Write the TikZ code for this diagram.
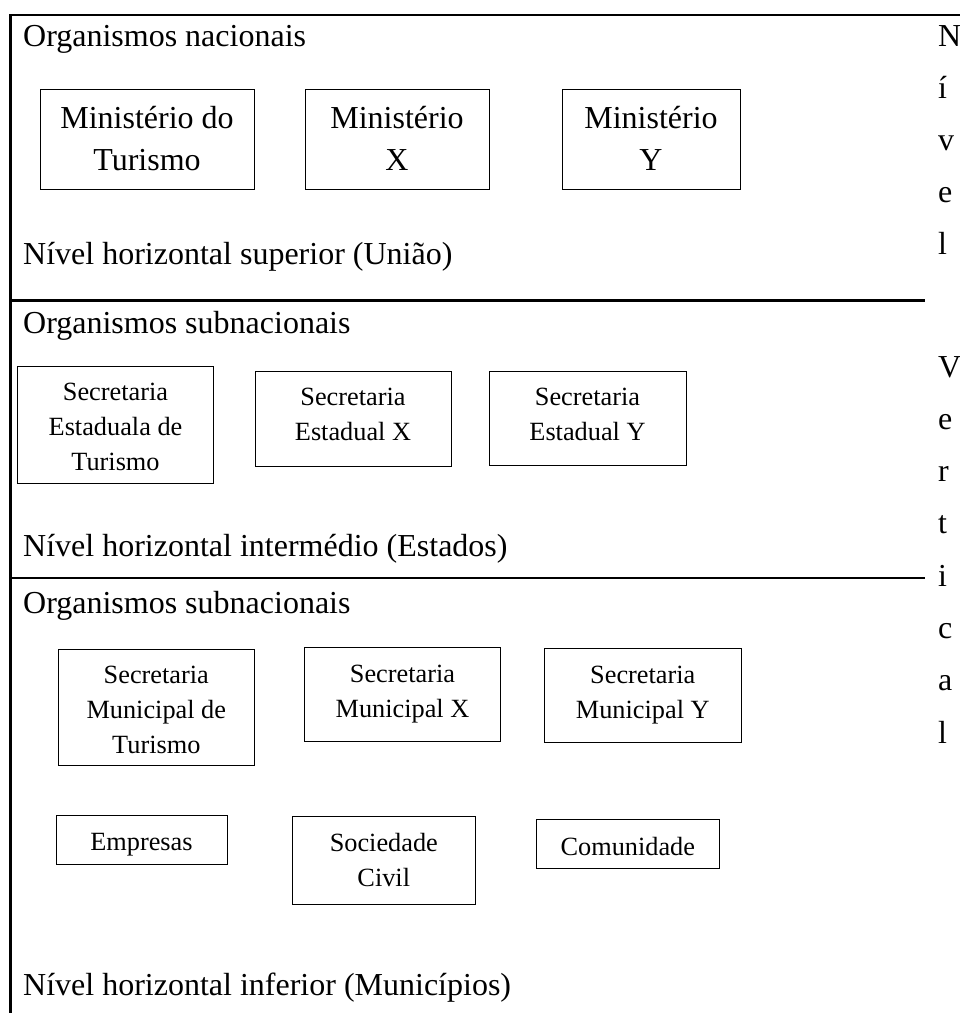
\documentclass[tikz,border=0pt]{standalone}
\usepackage{fontspec}
\setmainfont{Liberation Serif}
\usetikzlibrary{fit}
\begin{document}
\begin{tikzpicture}[x=1pt,y=-1pt,
  frame/.style={line width=2.2pt},
  box/.style={draw, line width=1pt, inner sep=0pt},
  big/.style={font=\fontsize{32}{42}\selectfont, align=center, inner sep=0pt, anchor=base},
  small/.style={font=\fontsize{26.3}{34.6}\selectfont, align=center, inner sep=0pt, anchor=base},
  head/.style={font=\fontsize{32}{42}\selectfont, inner sep=0pt, anchor=base west},
  side/.style={font=\fontsize{32}{42}\selectfont, inner sep=0pt, anchor=base west}]
\useasboundingbox (0,0) rectangle (960,1013);

% outer frame and level separators
\coordinate (tl) at (10.5,15);
\coordinate (tr) at (960,15);
\coordinate (bl) at (10.5,1013);
\coordinate (s1a) at (10.5,300.5);
\coordinate (s1b) at (925,300.5);
\coordinate (s2a) at (10.5,578);
\coordinate (s2b) at (925,578);
\draw[frame] (bl) -- (tl) -- (tr);
\draw[frame] (s1a) -- (s1b);
\draw[frame] (s2a) -- (s2b);

% level headings
\node[head] (h1) at (23,46) {Organismos nacionais};
\node[head] (f1) at (23,264) {Nível horizontal superior (União)};
\node[head] (h2) at (23,333) {Organismos subnacionais};
\node[head] (f2) at (23,556) {Nível horizontal intermédio (Estados)};
\node[head] (h3) at (23,613) {Organismos subnacionais};
\node[head] (f3) at (23,995) {Nível horizontal inferior (Municípios)};

% national level (text placed by the baseline of its last line)
\node[box, fit={(40,89) (254,189)}] (m1) {};
\node[big] (m1t) at (147,170) {Ministério do\\Turismo};
\node[box, fit={(305,89) (489,189)}] (m2) {};
\node[big] (m2t) at (397,170) {Ministério\\X};
\node[box, fit={(562,89) (740,189)}] (m3) {};
\node[big] (m3t) at (651,170) {Ministério\\Y};

% state level
\node[box, fit={(17.5,366) (213.5,483)}] (s1) {};
\node[small] (s1t) at (115.5,470) {Secretaria\\Estaduala de\\Turismo};
\node[box, fit={(255,371.7) (451,466)}] (s2) {};
\node[small] (s2t) at (353,440) {Secretaria\\Estadual X};
\node[box, fit={(489,371) (686,465.3)}] (s3) {};
\node[small] (s3t) at (587.5,440) {Secretaria\\Estadual Y};

% municipal level
\node[box, fit={(58.5,649) (254,765)}] (u1) {};
\node[small] (u1t) at (156.3,753) {Secretaria\\Municipal de\\Turismo};
\node[box, fit={(304.5,647.5) (500.5,741)}] (u2) {};
\node[small] (u2t) at (402.5,717) {Secretaria\\Municipal X};
\node[box, fit={(544.5,648.5) (741,742.5)}] (u3) {};
\node[small] (u3t) at (642.8,718) {Secretaria\\Municipal Y};

\node[box, fit={(56,815) (227,864)}] (e) {};
\node[small] (et) at (141.5,850) {Empresas};
\node[box, fit={(292,816.5) (475.5,904)}] (sc) {};
\node[small] (sct) at (383.8,886) {Sociedade\\Civil};
\node[box, fit={(536,819.5) (719.5,868.5)}] (c) {};
\node[small] (ct) at (627.8,855) {Comunidade};

% vertical level caption, one letter per line
\foreach \ch/\y [count=\i] in {N/46, í/98.2, v/150.4, e/202.6, l/254.8,
  V/377, e/429.3, r/481.6, t/533.9, i/586.2, c/638.5, a/690.8, l/743.1}
  \node[side] (v\i) at (938,\y) {\ch};
\end{tikzpicture}
\end{document}
